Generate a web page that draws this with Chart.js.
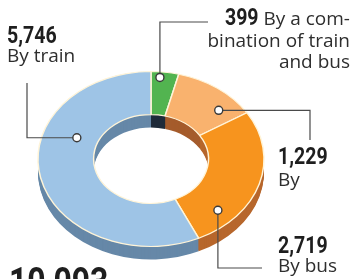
<!DOCTYPE html>
<html>
<head>
<meta charset="utf-8">
<script src="https://cdn.jsdelivr.net/npm/chart.js@4/dist/chart.umd.min.js"></script>
<style>
  html, body { margin: 0; padding: 0; background: #ffffff; }
  #wrap { position: relative; width: 351px; height: 279px; overflow: hidden; background: #ffffff; }
  canvas { position: absolute; left: 0; top: 0; }
  .lbl { position: absolute; white-space: pre; color: #2e2e2e; font-family: "Open Sans", "Noto Sans", sans-serif; font-size: 19px; line-height: 19px; }
  .num { position: absolute; white-space: pre; color: #1e1e1e; font-family: "Roboto", sans-serif; font-weight: bold; font-size: 23px; line-height: 23px; transform: scaleX(0.85); transform-origin: left top; }
  .inlnum { display: inline-block; color: #1e1e1e; font-family: "Roboto", sans-serif; font-weight: bold; font-size: 23px; transform: scaleX(0.85); transform-origin: right center; }
</style>
</head>
<body>
<div id="wrap">
  <canvas id="c" width="351" height="279"></canvas>
  <div id="labels"></div>
</div>
<script>
// ---- data ----
const categories = ['By a com-\nbination of train\nand bus', 'By', 'By bus', 'By train'];
const values = [399, 1229, 2719, 5746];
const totalValue = values.reduce((a, b) => a + b, 0);

// ---- styles ----
const topColors  = ['#52b450', '#f9b26e', '#f7941e', '#9ec4e6'];
const sideColors = ['#1f2b3a', '#a55c2c', '#b7672c', '#6688a8'];
const TILT = 0.774;
const DEPTH = 13;
// marker placement within each arc: fraction along the arc, fraction across the ring
const markerStyle = [
  { along: 0.34, across: 0.87 },
  { along: 0.75, across: 0.63 },
  { along: 0.79, across: 0.66 },
  { along: 0.66, across: 0.39 }
];
// leader routes: first leg direction and the corner/end coordinates
const leaders = [
  { first: 'v', corner: 22, endX: 208 },
  { first: 'h', corner: 310, endY: 140 },
  { first: 'v', corner: 268, endX: 262 },
  { first: 'h', corner: 27, endY: 83 }
];

const fmt = v => v.toLocaleString('en-US');

// ---- labels (real text) ----
const L = document.getElementById('labels');
function add(cls, text, css) {
  const d = document.createElement('div');
  d.className = cls; d.textContent = text;
  Object.assign(d.style, css);
  L.appendChild(d); return d;
}
// train
add('num', fmt(values[3]), { left: '7px', top: '24px' });
add('lbl', categories[3], { left: '7px', top: '46px' });
// combination
(function () {
  const d = document.createElement('div');
  d.className = 'lbl';
  Object.assign(d.style, { right: '1px', top: '7px', textAlign: 'right', lineHeight: '21.5px' });
  const s = document.createElement('span');
  s.className = 'inlnum'; s.textContent = fmt(values[0]);
  d.appendChild(s);
  d.appendChild(document.createTextNode(' ' + categories[0]));
  L.appendChild(d);
  const w = s.getBoundingClientRect().width / 0.85;
  s.style.marginLeft = (-(w * 0.15)) + 'px';
})();
// 1,229
add('num', fmt(values[1]), { left: '278px', top: '145px' });
add('lbl', categories[1], { left: '278px', top: '170px' });
// 2,719
add('num', fmt(values[2]), { left: '278px', top: '234px' });
add('lbl', categories[2], { left: '278px', top: '256px' });
// total
add('num', fmt(totalValue), { left: '9px', top: '263px', fontSize: '38px', lineHeight: '38px', transform: 'scaleX(0.84)' });

// ---- 3D tilt plugin ----
const tilt3D = {
  id: 'tilt3D',
  beforeDatasetsDraw(chart) {
    const ctx = chart.ctx;
    const meta = chart.getDatasetMeta(0);
    const cx = meta.data[0].x, cy = meta.data[0].y;
    ctx.save();
    ctx.translate(cx, cy); ctx.scale(1, TILT); ctx.translate(-cx, -cy);
    for (let d = DEPTH; d >= 1; d--) {
      ctx.save();
      ctx.translate(0, d / TILT);
      meta.data.forEach((arc, i) => {
        const orig = arc.options;
        const o = Object.create(orig);
        o.backgroundColor = sideColors[i];
        o.borderWidth = 0;
        arc.options = o;
        arc.draw(ctx);
        arc.options = orig;
      });
      ctx.restore();
    }
  },
  afterDatasetsDraw(chart) {
    const ctx = chart.ctx;
    ctx.restore();
    const meta = chart.getDatasetMeta(0);
    meta.data.forEach((arc, i) => {
      const p = arc.getProps(['x', 'y', 'startAngle', 'endAngle', 'innerRadius', 'outerRadius'], true);
      const ms = markerStyle[i];
      const a = p.startAngle + ms.along * (p.endAngle - p.startAngle);
      const r = p.innerRadius + ms.across * (p.outerRadius - p.innerRadius);
      const mx = p.x + r * Math.cos(a);
      const my = p.y + r * Math.sin(a) * TILT;
      const ld = leaders[i];
      ctx.save();
      ctx.strokeStyle = '#4a4a4a';
      ctx.lineWidth = 1.2;
      ctx.beginPath();
      ctx.moveTo(mx, my);
      if (ld.first === 'v') {
        ctx.lineTo(mx, ld.corner);
        ctx.lineTo(ld.endX, ld.corner);
      } else {
        ctx.lineTo(ld.corner, my);
        ctx.lineTo(ld.corner, ld.endY);
      }
      ctx.stroke();
      ctx.beginPath();
      ctx.arc(mx, my, 4, 0, Math.PI * 2);
      ctx.fillStyle = '#ffffff';
      ctx.fill();
      ctx.lineWidth = 1.4;
      ctx.strokeStyle = '#3a3a3a';
      ctx.stroke();
      ctx.restore();
    });
  }
};

new Chart(document.getElementById('c'), {
  type: 'doughnut',
  data: {
    labels: categories,
    datasets: [{
      data: values,
      backgroundColor: topColors,
      borderColor: '#fff4d8',
      borderWidth: 1.5,
      hoverOffset: 0
    }]
  },
  options: {
    responsive: false,
    devicePixelRatio: 1,
    animation: false,
    events: [],
    radius: 113,
    cutout: 57,
    layout: { padding: { left: 38, right: 87, top: 46, bottom: 7 } },
    plugins: { legend: { display: false }, tooltip: { enabled: false } }
  },
  plugins: [tilt3D]
});
</script>
</body>
</html>
